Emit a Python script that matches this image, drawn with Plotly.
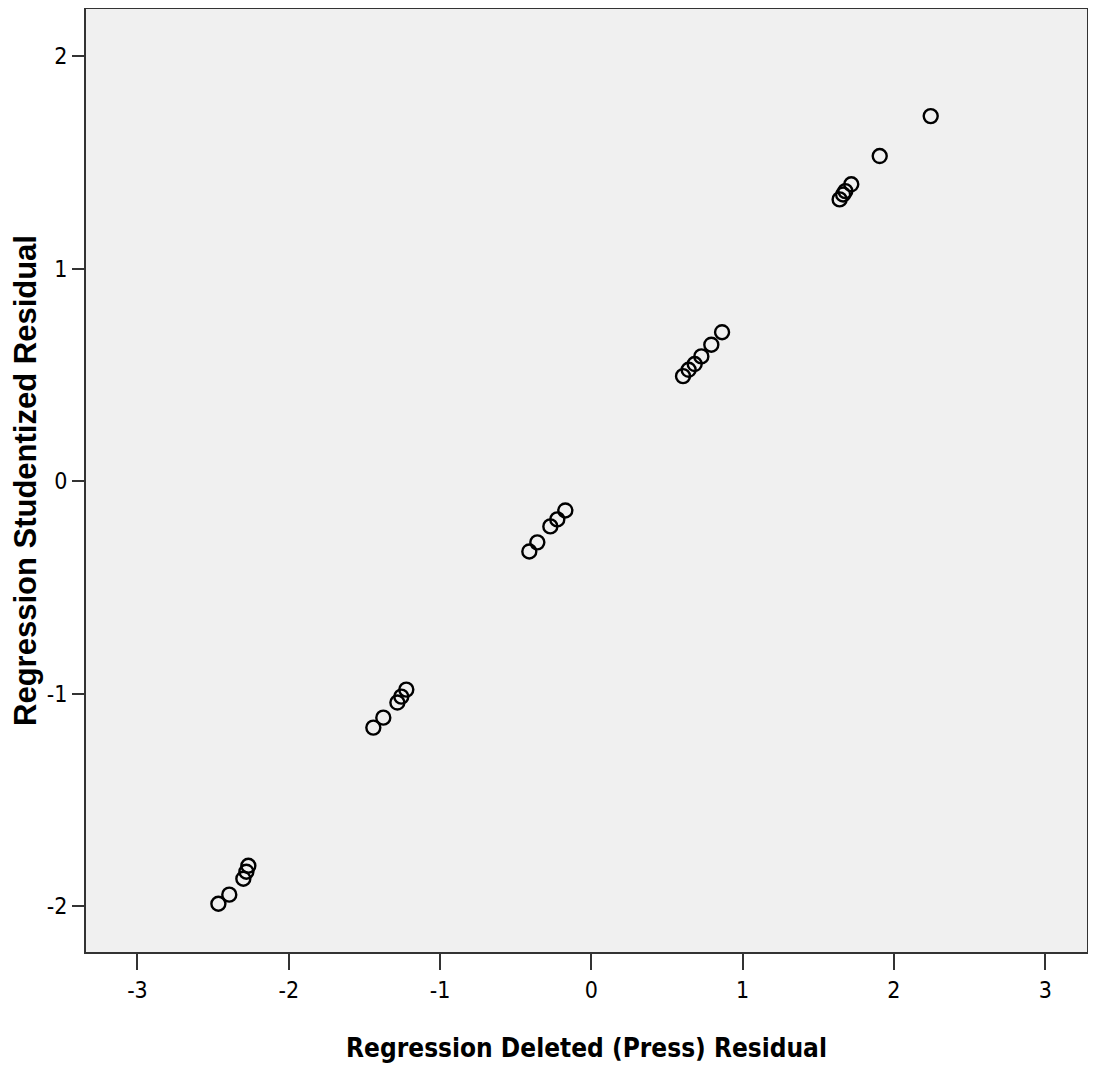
import plotly.graph_objects as go

x_press = [-2.465, -2.393, -2.300, -2.280, -2.267,
           -1.441, -1.375, -1.282, -1.256, -1.223,
           -0.410, -0.357, -0.271, -0.225, -0.172,
           0.606, 0.643, 0.683, 0.727, 0.793, 0.864,
           1.641, 1.664, 1.679, 1.718, 1.906, 2.243]
y_stud = [-1.988, -1.945, -1.870, -1.837, -1.809,
          -1.159, -1.112, -1.041, -1.013, -0.980,
          -0.330, -0.287, -0.212, -0.179, -0.137,
          0.495, 0.525, 0.552, 0.588, 0.643, 0.702,
          1.327, 1.350, 1.366, 1.398, 1.531, 1.719]
x_ticks = [-3, -2, -1, 0, 1, 2, 3]
x_ticklabels = ["-3", "-2", "-1", "0", "1", "2", "3"]
y_ticks = [-2, -1, 0, 1, 2]
y_ticklabels = ["-2", "-1", "0", "1", "2"]

fig = go.Figure(go.Scatter(
    x=x_press, y=y_stud, mode="markers",
    marker=dict(symbol="circle-open", size=14, color="black",
                line=dict(width=2.4, color="black")),
    showlegend=False))

narrow = "DejaVu Sans Condensed, Liberation Sans, sans-serif"
fig.update_layout(
    width=1080, height=1055,
    margin=dict(l=78, r=1, t=1, b=111),
    paper_bgcolor="white", plot_bgcolor="#f0f0f0",
    xaxis=dict(range=[-3.34, 3.276], tickvals=x_ticks, ticktext=x_ticklabels,
               automargin=False, showgrid=False, zeroline=False,
               showline=True, linecolor="#333", linewidth=2, mirror=True,
               ticks="outside", ticklen=16, tickwidth=2, tickcolor="#333",
               tickfont=dict(family=narrow, size=23, color="black"),
               title=dict(text="<b>Regression Deleted (Press) Residual</b>", standoff=38,
                          font=dict(family=narrow, size=26, color="black"))),
    yaxis=dict(range=[-2.215, 2.223], tickvals=y_ticks, ticktext=y_ticklabels,
               automargin=False, showgrid=False, zeroline=False,
               showline=True, linecolor="#333", linewidth=2, mirror=True,
               ticks="outside", ticklen=12, tickwidth=2, tickcolor="#333",
               tickfont=dict(family=narrow, size=23, color="black"),
               title=dict(text="<b>Regression Studentized Residual</b>", standoff=20,
                          font=dict(family="Liberation Sans, Arial, sans-serif", size=31, color="black"))),
)
fig.write_html("out.html")
